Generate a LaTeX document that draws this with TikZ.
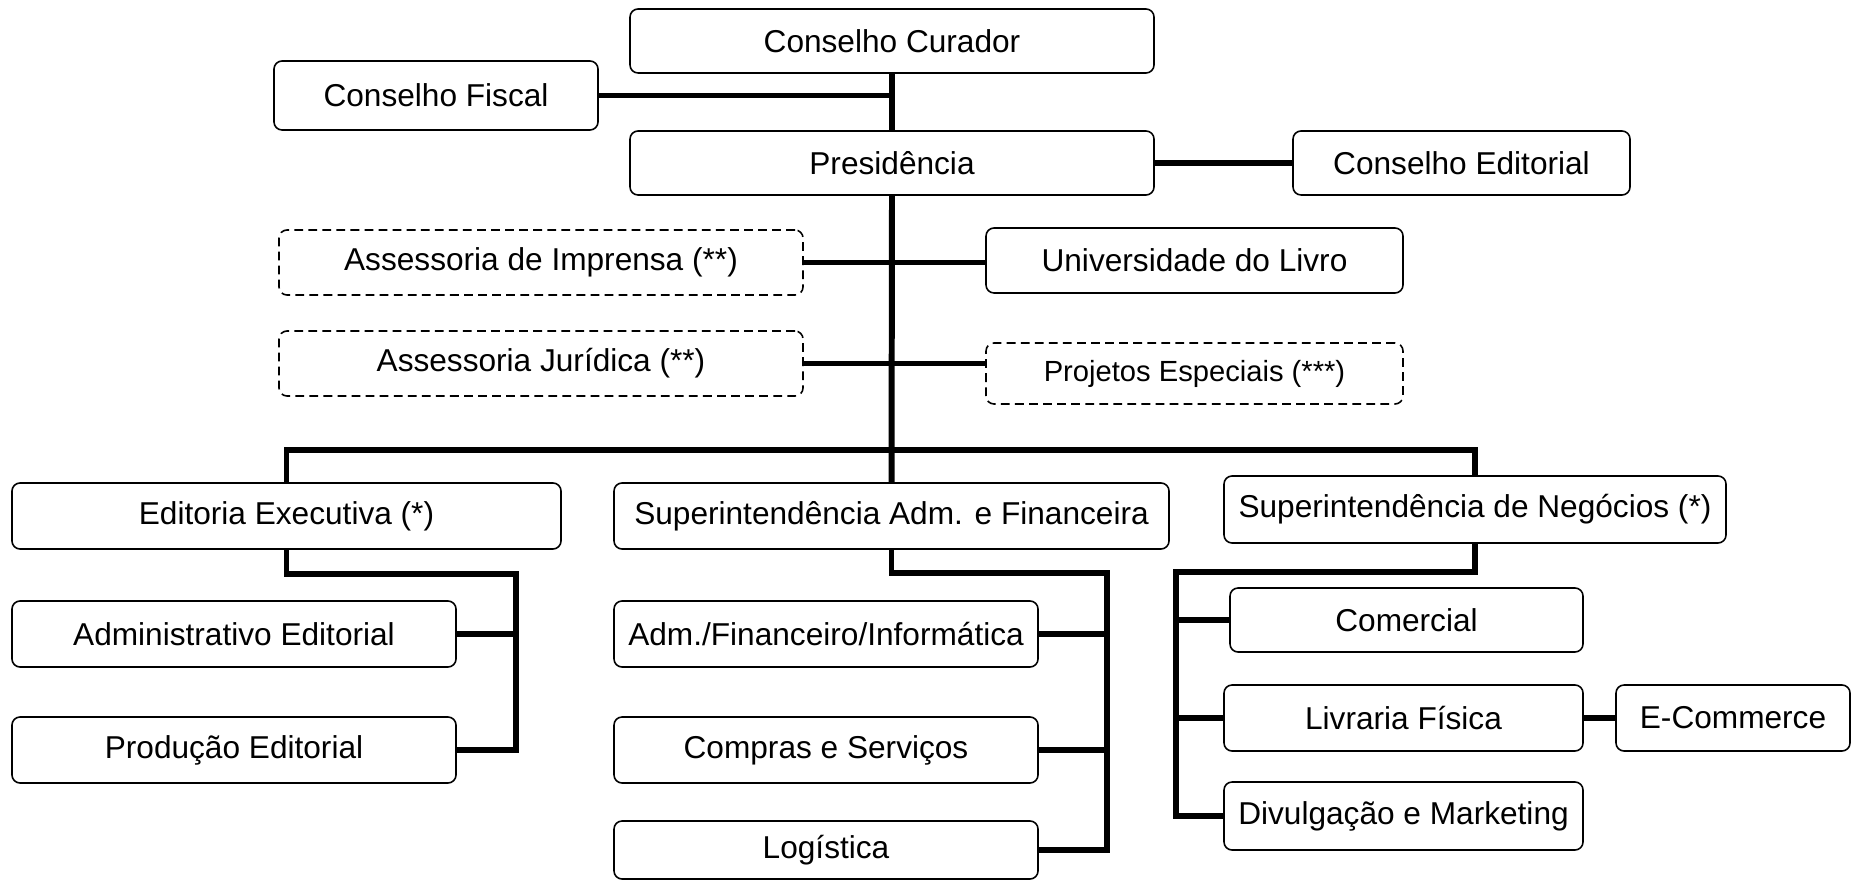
\documentclass[tikz,border=0pt]{standalone}
\usepackage{fontspec}
\setmainfont{Liberation Sans}
\begin{document}
\begin{tikzpicture}[x=0.02cm,y=-0.02cm,
  box/.style={draw,line width=0.9pt,rounded corners=0.16cm,inner sep=0pt,outer sep=0pt,
    font=\fontsize{18}{21}\selectfont,align=center},
  dbox/.style={dash pattern=on 5pt off 3pt},
  small/.style={font=\fontsize{16.6}{19}\selectfont},
  conn/.style={line width=3.4pt}]
\useasboundingbox (0,0) rectangle (1852,881);
\newcommand\bx[7][]{\node[box,#1,minimum width={(#5-#3)*0.02cm},minimum height={(#6-#4)*0.02cm}] (#2) at ({(#3+#5)/2},{(#4+#6)/2}) {#7};}
\bx{cur}{630}{9}{1154}{73}{Conselho Curador}
\bx{fis}{274}{61}{598}{130}{Conselho Fiscal}
\bx{pres}{630}{131}{1154}{195}{Presidência}
\bx{ced}{1293}{131}{1630}{195}{Conselho Editorial}
\bx[dbox]{imp}{279}{230}{803}{295}{Assessoria de Imprensa (**)}
\bx{uni}{986}{228}{1403}{293}{Universidade do Livro}
\bx[dbox]{jur}{279}{331}{803}{396}{Assessoria Jurídica (**)}
\bx[dbox,small]{proj}{986}{343}{1403}{404}{Projetos Especiais (***)}
\bx{edx}{12}{483}{561}{549}{Editoria Executiva (*)}
\bx{sadm}{614}{483}{1169}{549}{Superintendência Adm. e Financeira}
\bx{neg}{1224}{476}{1726}{543}{Superintendência de Negócios (*)}
\bx{ae}{12}{601}{456}{667}{Administrativo Editorial}
\bx{pe}{12}{717}{456}{783}{Produção Editorial}
\bx{afi}{614}{601}{1038}{667}{Adm./Financeiro/Informática}
\bx{cs}{614}{717}{1038}{783}{Compras e Serviços}
\bx{log}{614}{821}{1038}{879}{Logística}
\bx{com}{1230}{588}{1583}{652}{Comercial}
\bx{lf}{1224}{685}{1583}{751}{Livraria Física}
\bx{ec}{1616}{685}{1850}{751}{E-Commerce}
\bx{dm}{1224}{782}{1583}{850}{Divulgação e Marketing}
\coordinate (bus) at (0,450);
\coordinate (ebus) at (516,574);
\coordinate (sbus) at (1107,573);
\coordinate (nbus) at (1176,572);
\begin{scope}[conn]
\draw (cur.south) -- (pres.north);
\draw (fis.east) -- (fis.east -| cur.south);
\draw (pres.east) -- (ced.west);
\draw (pres.south) -- (sadm.north);
\draw (imp.east) -- (imp.east -| uni.west);
\draw (jur.east) -- (jur.east -| proj.west);
\draw (edx.north) -- (edx.north |- bus) -| (neg.north);
\draw (edx.south) |- (ebus) -- (ebus |- pe.east) -- (pe.east);
\draw (ae.east) -- (ae.east -| ebus);
\draw (sadm.south) |- (sbus) -- (sbus |- log.east) -- (log.east);
\draw (afi.east) -- (afi.east -| sbus);
\draw (cs.east) -- (cs.east -| sbus);
\draw (neg.south) |- (nbus) -- (nbus |- dm.west) -- (dm.west);
\draw (com.west) -- (com.west -| nbus);
\draw (lf.west) -- (lf.west -| nbus);
\draw (lf.east) -- (lf.east -| ec.west);
\end{scope}
\end{tikzpicture}
\end{document}
